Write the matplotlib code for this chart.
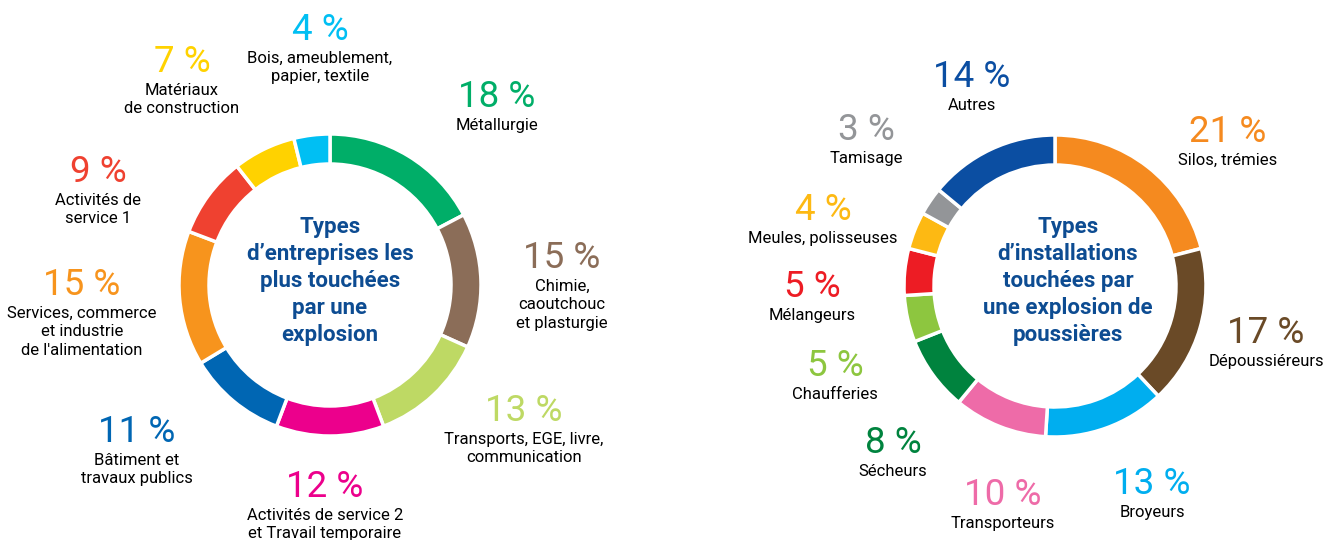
import matplotlib.pyplot as plt

plt.rcParams["font.family"] = ["Roboto", "DejaVu Sans"]

# left ring: types of companies
ent_labels = [
    "Métallurgie",
    "Chimie,\ncaoutchouc\net plasturgie",
    "Transports, EGE, livre,\ncommunication",
    "Activités de service 2\net Travail temporaire",
    "Bâtiment et\ntravaux publics",
    "Services, commerce\net industrie\nde l'alimentation",
    "Activités de\nservice 1",
    "Matériaux\nde construction",
    "Bois, ameublement,\npapier, textile",
]
ent_values = [18, 15, 13, 12, 11, 15, 9, 7, 4]
ent_colors = ["#00ae68", "#8b6d58", "#bed964", "#ec008c", "#0066b3",
              "#f7941d", "#ef4130", "#ffd200", "#00bff3"]

# right ring: types of installations
ins_labels = [
    "Silos, trémies",
    "Dépoussiéreurs",
    "Broyeurs",
    "Transporteurs",
    "Sécheurs",
    "Chaufferies",
    "Mélangeurs",
    "Meules, polisseuses",
    "Tamisage",
    "Autres",
]
ins_values = [21, 17, 13, 10, 8, 5, 5, 4, 3, 14]
ins_colors = ["#f58a1f", "#6a4a27", "#00aeef", "#ee6ba8", "#00833e",
              "#8dc63f", "#ed1c24", "#fdb913", "#939598", "#0b4ea2"]

# label anchor (x, y from top) in pixels for each slice
ent_pos = [(497, 97), (562, 258), (524, 411), (325, 487), (137, 432),
           (82, 285), (98, 172), (182, 62), (320, 30)]
ins_pos = [(1228, 132), (1266, 333), (1152, 484), (1003, 495), (893, 443),
           (835, 366), (812, 287), (823, 210), (866, 130), (972, 77)]

NAVY = "#0d4c92"
H = 540

fig = plt.figure(figsize=(13.3, 5.4), dpi=100)
ax = fig.add_axes([0, 0, 1, 1])


def ring(values, colors, cx, cy):
    ax.pie(values, colors=colors, center=(cx, H - cy), radius=151,
           startangle=90, counterclock=False,
           wedgeprops=dict(width=30, edgecolor="white", linewidth=2.5))


def labels(names, values, colors, pos):
    for name, v, c, (x, y) in zip(names, values, colors, pos):
        ax.text(x, H - y, f"{v} %", color=c, fontsize=26.5, ha="center",
                va="center")
        ax.text(x, H - y - 21, name, color="black", fontsize=12, ha="center",
                va="top", linespacing=1.28)


ring(ent_values, ent_colors, 330, 285)
ring(ins_values, ins_colors, 1055, 286)
labels(ent_labels, ent_values, ent_colors, ent_pos)
labels(ins_labels, ins_values, ins_colors, ins_pos)

ax.text(330, H - 281, "Types\nd’entreprises les\nplus touchées\npar une\nexplosion",
        color=NAVY, fontsize=16, fontweight="bold", ha="center", va="center",
        linespacing=1.28)
ax.text(1068, H - 281, "Types\nd’installations\ntouchées par\nune explosion de\npoussières",
        color=NAVY, fontsize=16, fontweight="bold", ha="center", va="center",
        linespacing=1.28)

ax.set_xlim(0, 1330)
ax.set_ylim(0, H)
ax.set_aspect("equal")
ax.axis("off")

fig.savefig("out.png", dpi=100, facecolor="white")
